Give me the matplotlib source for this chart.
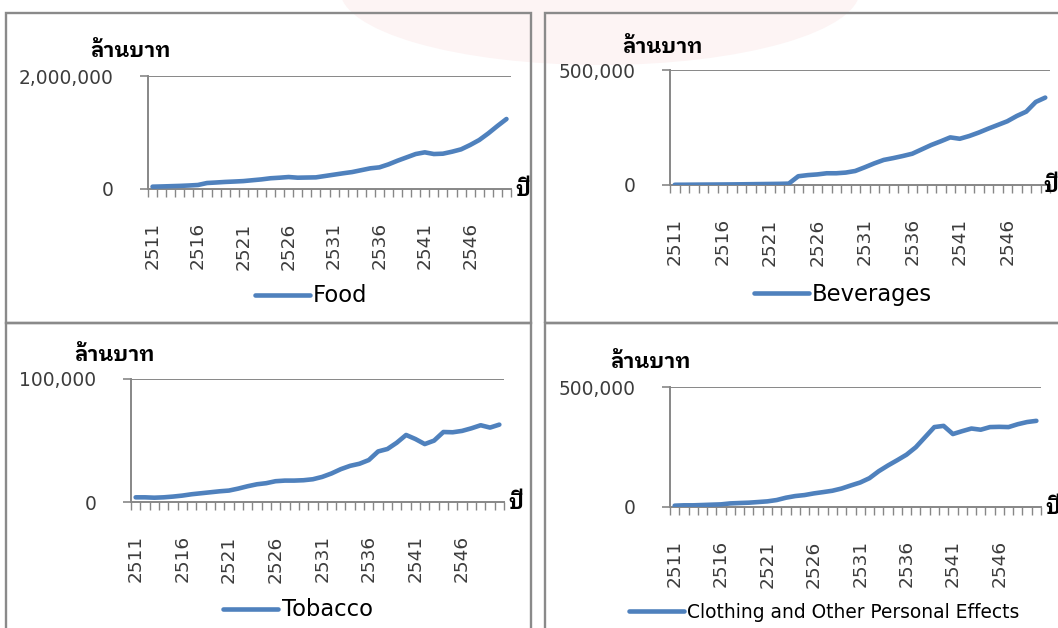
import matplotlib
matplotlib.use('Agg')
import matplotlib.pyplot as plt
from matplotlib.patches import Rectangle, Ellipse

# Buddhist-era years 2511-2550
years = list(range(2511, 2551))

# million baht
food = [41000, 45000, 50000, 55000, 62000, 71000, 106000, 115000, 125000, 132000,
        140000, 155000, 170000, 190000, 200000, 212000, 200000, 203000, 206000, 230000,
        254000, 278000, 300000, 333000, 366000, 383000, 436000, 501000, 560000, 619000,
        649000, 619000, 625000, 660000, 702000, 779000, 867000, 985000, 1115000, 1239000]

beverages = [1000, 1200, 1500, 1800, 2000, 2300, 2600, 3000, 3500, 4000,
             4500, 5000, 6000, 38000, 43000, 46000, 51000, 51000, 54000, 61000,
             77000, 94000, 109000, 117000, 126000, 136000, 155000, 174000, 190000, 207000,
             201000, 213000, 228000, 245000, 261000, 277000, 300000, 319000, 361000, 380000]

tobacco = [3800, 3800, 3500, 3800, 4400, 5200, 6300, 7100, 7900, 8700,
           9300, 10900, 12800, 14400, 15300, 16900, 17400, 17400, 17700, 18500,
           20400, 23200, 26700, 29400, 31100, 34100, 41100, 43100, 48200, 54500,
           51200, 47100, 49900, 56900, 56700, 57800, 59900, 62400, 60500, 62900]

clothing = [5500, 7000, 7000, 8300, 9700, 11000, 15000, 16600, 18000, 20700,
            23500, 29000, 38700, 45600, 49700, 56600, 62000, 67700, 77000, 89800,
            102000, 120000, 149000, 173000, 195000, 218000, 249000, 291000, 333000, 338000,
            304000, 316000, 327000, 322000, 333000, 334000, 333000, 345000, 354000, 359000]

series_names = ['Food', 'Beverages', 'Tobacco', 'Clothing and Other Personal Effects']
series_values = [food, beverages, tobacco, clothing]
y_max = [2000000, 500000, 100000, 500000]
y_ticklabels = [['0', '2,000,000'], ['0', '500,000'], ['0', '100,000'], ['0', '500,000']]
unit_label = 'ล้านบาท'
year_label = 'ปี'

W, H = 1058, 628
LINE = '#4F81BD'
AXC = '#878787'
TXT = '#3c3c3c'
THAI = ['IBM Plex Sans Thai Looped', 'Sarabun', 'Noto Sans Thai', 'DejaVu Sans']
LATIN = ['DejaVu Sans']


def fx(px):
    return px / W


def fy(py):
    return 1 - py / H


def box(x0, y0, x1, y1):
    return [fx(x0), fy(y1), fx(x1) - fx(x0), fy(y0) - fy(y1)]


fig = plt.figure(figsize=(W / 100, H / 100), dpi=100)

# faint pink tint behind the top panels
fig.patches.append(Ellipse((fx(600), fy(-10)), fx(520), 150 / H, transform=fig.transFigure,
                           facecolor='#fdf4f4', edgecolor='none', zorder=0))

# panel frames
frames = [(6, 13, 531, 323), (545, 13, 1075, 323), (6, 323, 531, 645), (545, 323, 1075, 645)]
for x0, y0, x1, y1 in frames:
    fig.patches.append(Rectangle((fx(x0), fy(y1)), fx(x1) - fx(x0), fy(y0) - fy(y1),
                                 transform=fig.transFigure, facecolor='none',
                                 edgecolor='#8a8a8a', lw=1.7, zorder=1))

# plot areas: left, top, right, zero-line (pixels)
areas = [(148, 76, 511, 189), (670, 70, 1050, 185), (131, 379, 504, 502), (670, 387, 1041, 507)]
unit_pos = [(131, 51), (663, 47), (115, 355), (651, 362)]
year_pos = [(515, 190), (1043, 186), (508, 503), (1045, 508)]
legend_pos = [(311, 296), (843, 294), (298, 610), (824, 612)]
legend_size = [16.3, 16.3, 16.3, 13.4]

x = list(range(len(years)))
for i in range(4):
    l, t, r, b = areas[i]
    ax = fig.add_axes(box(l, t, r, b))
    ax.set_zorder(2)
    ax.patch.set_alpha(0)
    ax.plot(x, series_values[i], color=LINE, lw=3.3, solid_capstyle='round',
            solid_joinstyle='round', label=series_names[i], zorder=3)
    ax.set_xlim(-0.5, len(years) - 0.5)
    ax.set_ylim(0, y_max[i])

    for s in ['top', 'right']:
        ax.spines[s].set_visible(False)
    for s in ['left', 'bottom']:
        ax.spines[s].set_color(AXC)
        ax.spines[s].set_linewidth(1.4)

    ax.set_yticks([0, y_max[i]])
    ax.set_yticklabels(y_ticklabels[i], family=LATIN, fontsize=13.4, color=TXT)
    ax.tick_params(axis='y', length=6, width=1.2, color=AXC, pad=19)
    ax.axhline(y_max[i], color=AXC, lw=1.4, zorder=1)

    ax.set_xticks(x[::5])
    ax.set_xticklabels([str(y) for y in years[::5]], rotation=90, family=LATIN,
                       fontsize=13.3, color=TXT)
    ax.set_xticks([k - 0.5 for k in range(len(years) + 1)], minor=True)
    ax.tick_params(axis='x', which='major', length=0, pad=24)
    ax.tick_params(axis='x', which='minor', length=5.5, width=1.0, color=AXC, direction='out')

    ux, uy = unit_pos[i]
    fig.text(fx(ux), fy(uy), unit_label, ha='center', va='center', fontsize=15,
             weight='bold', family=THAI, color='black', zorder=3)
    px, py = year_pos[i]
    fig.text(fx(px), fy(py), year_label, ha='left', va='center', fontsize=15,
             weight='bold', family=THAI, color='black', zorder=3)

    lx, ly = legend_pos[i]
    ax.legend(loc='center', bbox_to_anchor=(fx(lx), fy(ly)), bbox_transform=fig.transFigure,
              frameon=False, handlelength=55 / (legend_size[i] * 100 / 72), handletextpad=0.15,
              borderpad=0, prop={'family': LATIN, 'size': legend_size[i]}, labelcolor='black')

fig.savefig('out.png', dpi=100)
